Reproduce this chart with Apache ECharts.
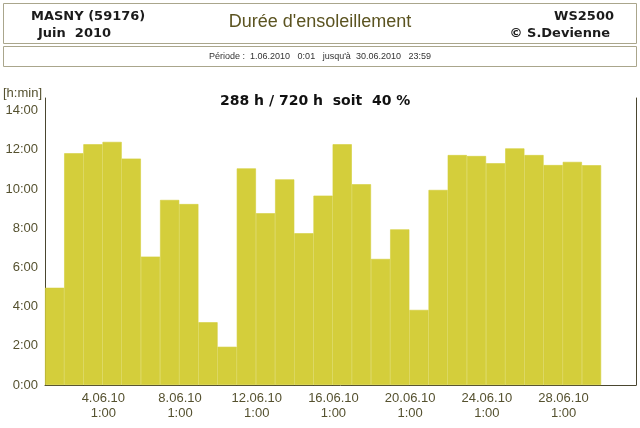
<!DOCTYPE html>
<html><head><meta charset="utf-8">
<script src="https://cdn.jsdelivr.net/npm/echarts@6/dist/echarts.min.js"></script>
<style>html,body{margin:0;padding:0;background:#fff;}#c{width:640px;height:428px;}</style>
</head><body><div id="c"></div>
<script>
// Daily sunshine duration (hours), June 2010, days 1..29
const sunHours = [4.96, 11.82, 12.28, 12.40, 11.55, 6.55, 9.44, 9.23, 3.20, 1.95,
                  11.05, 8.76, 10.49, 7.74, 9.66, 12.28, 10.24, 6.43, 7.94, 3.83,
                  9.95, 11.73, 11.68, 11.31, 12.07, 11.73, 11.22, 11.38, 11.21];
const labelDays = [4, 8, 12, 16, 20, 24, 28];
const tickDates = ['4.06.10', '8.06.10', '12.06.10', '16.06.10', '20.06.10', '24.06.10', '28.06.10'];
const tickTime = '1:00';
const summaryText = '288 h / 720 h  soit  40 %';

const labelPos = labelDays.map(d => d - 1 + 1 / 24);
const barData = sunHours.map((v, i) => [i + 0.5, v]);
const axisCol = '#4a4630';
const labCol = '#55512f';
const barCol = '#d4ce3b';

const chart = echarts.init(document.getElementById('c'), null, {renderer: 'canvas'});
chart.setOption({
  animation: false,
  backgroundColor: '#ffffff',
  grid: {left: 45, right: 4, top: 98, bottom: 43, containLabel: false, outerBoundsMode: 'none'},
  xAxis: {
    type: 'value', min: 0, max: 30.82,
    axisLine: {show: true, lineStyle: {color: axisCol, width: 1}},
    axisTick: {show: false},
    splitLine: {show: false},
    axisLabel: {
      customValues: labelPos,
      margin: 6, lineHeight: 15,
      color: labCol, fontSize: 13, fontFamily: 'Liberation Sans',
      formatter: function (v) {
        let best = 0, bd = 1e9;
        labelPos.forEach((p, i) => { const d = Math.abs(p - v); if (d < bd) { bd = d; best = i; } });
        return tickDates[best] + '\n' + tickTime;
      }
    }
  },
  yAxis: [{
    type: 'value', min: 0, max: 14.64, interval: 2, position: 'left',
    axisLine: {show: true, lineStyle: {color: axisCol, width: 1}},
    axisTick: {show: false},
    splitLine: {show: false},
    axisLabel: {
      showMaxLabel: false, margin: 7,
      color: labCol, fontSize: 13, fontFamily: 'Liberation Sans',
      formatter: v => Math.round(v) + ':00'
    }
  }, {
    type: 'value', min: 0, max: 14.64, interval: 2, position: 'right',
    axisLine: {show: true, lineStyle: {color: axisCol, width: 1}},
    axisTick: {show: false}, splitLine: {show: false}, axisLabel: {show: false}
  }],
  series: [{
    type: 'bar', xAxisIndex: 0, yAxisIndex: 0,
    data: barData,
    barCategoryGap: '0%',
    itemStyle: {color: barCol, borderColor: barCol, borderWidth: 0.6},
    emphasis: {disabled: true}
  }],
  graphic: [
    {type: 'rect', shape: {x: 3.5, y: 3.5, width: 633, height: 40}, style: {fill: 'none', stroke: '#aaa68c', lineWidth: 1}},
    {type: 'rect', shape: {x: 3.5, y: 46.5, width: 633, height: 20}, style: {fill: 'none', stroke: '#aaa68c', lineWidth: 1}},
    {type: 'text', x: 31, y: 17, style: {text: 'MASNY (59176)', font: 'bold 13px "DejaVu Sans"', fill: '#1b1b1b', textVerticalAlign: 'middle', verticalAlign: 'middle'}},
    {type: 'text', x: 38, y: 34, style: {text: 'Juin  2010', font: 'bold 13px "DejaVu Sans"', fill: '#1b1b1b', textVerticalAlign: 'middle', verticalAlign: 'middle'}},
    {type: 'text', x: 320, y: 22, style: {text: "Durée d'ensoleillement", font: '18px "Liberation Sans"', fill: '#5b5320', textAlign: 'center', align: 'center', textVerticalAlign: 'middle', verticalAlign: 'middle'}},
    {type: 'text', x: 614, y: 17, style: {text: 'WS2500', font: 'bold 13px "DejaVu Sans"', fill: '#1b1b1b', textAlign: 'right', align: 'right', textVerticalAlign: 'middle', verticalAlign: 'middle'}},
    {type: 'text', x: 610, y: 34, style: {text: '© S.Devienne', font: 'bold 13px "DejaVu Sans"', fill: '#1b1b1b', textAlign: 'right', align: 'right', textVerticalAlign: 'middle', verticalAlign: 'middle'}},
    {type: 'text', x: 320, y: 57, style: {text: "Période :  1.06.2010   0:01   jusqu'à  30.06.2010   23:59", font: '9px "Liberation Sans"', fill: '#333333', textAlign: 'center', align: 'center', textVerticalAlign: 'middle', verticalAlign: 'middle'}},
    {type: 'text', x: 220, y: 101, style: {text: summaryText, font: 'bold 14px "DejaVu Sans"', fill: '#111111', textVerticalAlign: 'middle', verticalAlign: 'middle'}},
    {type: 'text', x: 3, y: 93, style: {text: '[h:min]', font: '13px "Liberation Sans"', fill: labCol, textVerticalAlign: 'middle', verticalAlign: 'middle'}}
  ]
});
</script>
</body></html>
